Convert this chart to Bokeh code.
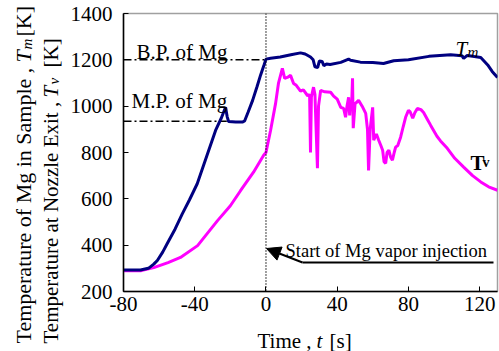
from bokeh.plotting import figure
from bokeh.models import Label, Arrow, NormalHead, Span, FixedTicker
from bokeh.layouts import row, column
from bokeh.core.properties import value
from bokeh.embed import file_html
from bokeh.resources import INLINE
import math

# ---- data ----
tm_time = [-80, -70.5, -66, -63, -61, -58, -55.5, -51, -47, -43, -38.6, -33, -28.3, -25, -22.7, -21.8,
           -21, -17, -13, -12, -10, -7.5, -5, -3, -1, 0, 2.6, 8, 14, 19.4, 22, 25, 26.5, 27.5,
           29, 30, 31.5, 32.5, 34, 36, 42, 46.4, 47.5, 53, 60, 66, 71.7, 80, 91.5, 103.7,
           110, 111, 113, 117, 120.6, 124.5, 127, 130]
tm_temp = [293, 293, 300, 318, 334, 370, 406, 470, 535, 595, 665, 790, 895, 950, 995, 955,
           934, 932, 932, 936, 975, 1025, 1085, 1135, 1180, 1203, 1207, 1212, 1222, 1230, 1225, 1212, 1200, 1170,
           1167, 1195, 1193, 1175, 1182, 1180, 1189, 1203, 1198, 1190, 1188, 1184, 1196, 1200, 1215, 1222,
           1218, 1206, 1219, 1214, 1210, 1178, 1150, 1124]

tv_time = [-80, -70, -63, -55, -48, -38.4, -27.2, -20, -14.3, -7, -1.3, 0, 2.6, 5.4, 7, 9.2, 10.5,
           12, 13.8, 15.5, 17, 19.4, 21, 23.4, 24.5, 25, 25.5, 26.7, 27.5, 28.9, 29.5, 30.7, 33,
           36.3, 38, 40, 42, 43.6, 44.7, 45.5, 46.4, 47, 47.5, 48, 48.6, 49, 50, 52, 54, 56, 57,
           57.6, 58.5, 59.9, 60.5, 62, 63.3, 64.5, 65.5, 66.3, 67.2, 68, 69, 70, 71, 72, 72.8, 74,
           75.6, 77, 78.4, 80, 81, 82.4, 83.5, 85, 87, 88.5, 90.5, 92.5, 96, 98, 101.8, 106, 111,
           116, 120.6, 125, 130]
tv_temp = [290, 290, 303, 325, 347, 398, 506, 570, 635, 715, 788, 800, 896, 1012, 1098, 1163, 1120,
           1124, 1133, 1098, 1090, 1065, 1070, 1045, 1050, 800, 1040, 1082, 1050, 732, 1000, 1068, 1062,
           1060, 1043, 1030, 995, 990, 952, 1000, 1038, 960, 1025, 980, 1120, 905, 1010, 1025, 1000, 969, 900,
           723, 900, 995, 853, 880, 853, 830, 810, 760, 753, 800, 810, 780, 767, 800, 823, 830,
           866, 910, 952, 982, 975, 948, 970, 990, 985, 973, 945, 917, 870, 850, 818, 775, 737,
           700, 673, 652, 637]

x_ticks = [-80, -40, 0, 40, 80, 120]
x_tick_labels = ["-80", "-40", "0", "40", "80", "120"]
y_ticks = [200, 400, 600, 800, 1000, 1200, 1400]
bp_temp = 1200
mp_temp = 935
mp_end = -22
inj_time = 0

FONT = "Liberation Serif"

# geometry (picture pixels)
W, H = 499, 351
LEFT_W = 66
BOT_H = 25
X0, X1, XL0, XL1 = 123, 497, -80, 130
Y0, Y1, YL0, YL1 = 291, 13, 200, 1400


def px(x, y):
    return (XL0 + (x - X0) * (XL1 - XL0) / (X1 - X0),
            YL0 + (y - Y0) * (YL1 - YL0) / (Y1 - Y0))


main_w = W - LEFT_W
main_h = H - BOT_H
p = figure(width=main_w, height=main_h, x_range=(XL0, XL1), y_range=(YL0, YL1),
           output_backend="svg", toolbar_location=None,
           min_border_left=X0 - LEFT_W, min_border_right=W - X1,
           min_border_top=Y1, min_border_bottom=main_h - Y0)
p.background_fill_color = "white"
p.border_fill_color = "white"
p.outline_line_color = "#a0a0a0"
p.outline_line_width = 1.5
p.grid.visible = False

for ax in (p.xaxis[0], p.yaxis[0]):
    ax.axis_line_color = "black"
    ax.axis_line_width = 1.5
    ax.major_tick_in = 5
    ax.major_tick_out = 0
    ax.major_tick_line_color = "black"
    ax.minor_tick_line_color = None
    ax.major_label_text_font = FONT
    ax.major_label_text_font_size = "21px"
    ax.major_label_text_color = "black"
p.xaxis.ticker = FixedTicker(ticks=x_ticks)
p.xaxis.major_label_overrides = {t: s for t, s in zip(x_ticks, x_tick_labels)}
p.yaxis.ticker = FixedTicker(ticks=y_ticks)
p.xaxis.major_label_standoff = 5
p.yaxis.major_label_standoff = 11

# reference lines
p.line([XL0, inj_time], [bp_temp, bp_temp], line_color="black", line_width=1.5, line_dash="8 3 2 3")
p.line([XL0, mp_end], [mp_temp, mp_temp], line_color="black", line_width=1.5, line_dash="8 3 2 3")
p.add_layout(Span(location=inj_time, dimension="height", line_color="black",
                  line_width=1.5, line_dash="1 2"))

# curves
p.line(tv_time, tv_temp, line_color="#ff00ff", line_width=3)
p.line(tm_time, tm_temp, line_color="#000080", line_width=3)

# arrow annotation
kx, ky = px(302, 262)
ex, _ = px(493, 262)
tx, ty = px(266, 248)
p.line([kx, ex], [ky, ky], line_color="black", line_width=2)
p.add_layout(Arrow(end=NormalHead(size=14, fill_color="black", line_color="black"),
                   x_start=kx, y_start=ky, x_end=tx, y_end=ty,
                   line_color="black", line_width=2))


def lab(x, y, text, size="21px", style="normal"):
    dx, dy = px(x, y)
    p.add_layout(Label(x=dx, y=dy, text=text, text_font=FONT, text_font_size=size,
                       text_font_style=style, text_color="black",
                       text_align="left", text_baseline="alphabetic"))


lab(136, 51, "B.P. of Mg")
lab(131, 100, "M.P. of Mg")
lab(285, 250, "Start of Mg vapor injection", size="18.5px")
lab(455, 48, "T", style="italic")
lab(467, 51, "m", size="15px", style="italic")
lab(470, 162, "T", style="bold")
lab(482, 162, "v", size="14px", style="bold")


def blank(w, h, xr, yr):
    f = figure(width=w, height=h, x_range=xr, y_range=yr,
               output_backend="svg", toolbar_location=None,
               x_axis_location=None, y_axis_location=None, min_border=0)
    f.grid.visible = False
    f.outline_line_color = None
    f.border_fill_color = "white"
    f.background_fill_color = "white"
    return f


def txt(f, x, y, text, size="21px", style="normal", angle=0.0):
    f.text(x=[x], y=[y], text=[text], angle=angle, text_font=value(FONT),
           text_font_size=value(size), text_font_style=value(style),
           text_color="black", text_align=value("left"), text_baseline=value("alphabetic"))


# left panel with rotated y titles (coords: x from left, y from bottom of picture)
lf = blank(LEFT_W, H, (0, LEFT_W), (0, H))
r = math.pi / 2
B1, B2 = 23, 50
txt(lf, B1, H - 343, "Temperature of Mg in Sample ,", size="22px", angle=r)
txt(lf, B1, H - 62, "T", size="22px", style="italic", angle=r)
txt(lf, B1 + 3, H - 49, "m", size="15px", style="italic", angle=r)
txt(lf, B1, H - 36, "[K]", size="22px", angle=r)
txt(lf, B2, H - 343, "Temperature at Nozzle Exit ,", size="21px", angle=r)
txt(lf, B2, H - 97, "T", size="21px", style="italic", angle=r)
txt(lf, B2 + 3, H - 84, "v", size="15px", style="italic", angle=r)
txt(lf, B2, H - 67, "[K]", size="21px", angle=r)

# bottom panel with x title; its frame is aligned with the main frame horizontally
bf = blank(main_w, BOT_H, (XL0, XL1), (0, BOT_H))
for xp, s, st in [(257, "Time ,", "normal"), (316, "t", "italic"), (329, "[s]", "normal")]:
    txt(bf, px(xp, 0)[0], H - 340, s, style=st)

layout = row(lf, column(p, bf, spacing=0), spacing=0)

open("out.html", "w").write(file_html(layout, INLINE))
